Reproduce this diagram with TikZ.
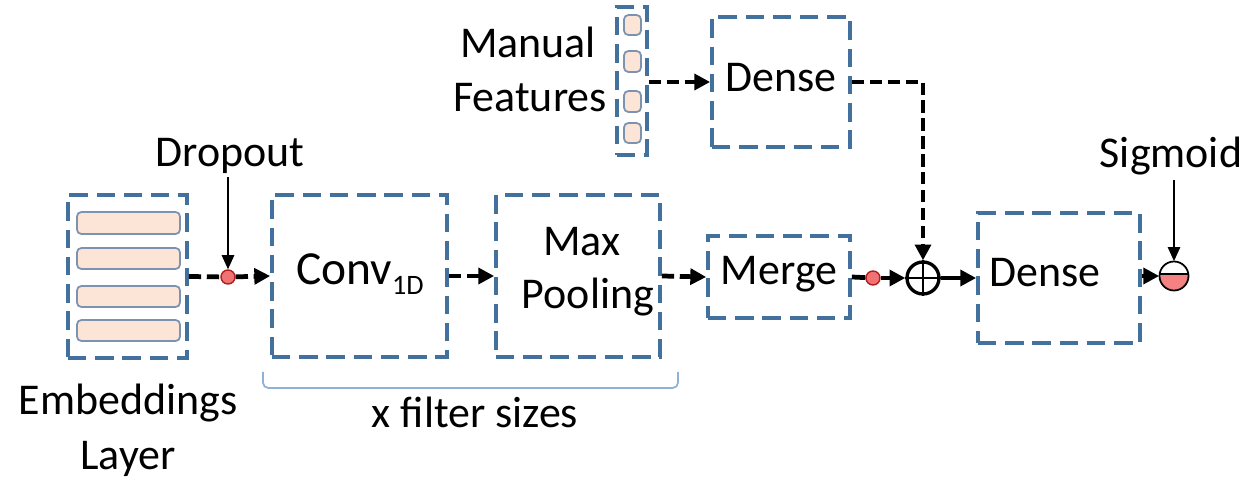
\documentclass[tikz,border=0pt]{standalone}
\usepackage{fontspec}
\setmainfont{Carlito}
\usetikzlibrary{arrows.meta,fit,calc}

\definecolor{boxblue}{HTML}{41719C}
\definecolor{braceblue}{HTML}{8FB1D6}
\definecolor{cellfill}{HTML}{FCE4D6}
\definecolor{cellrim}{HTML}{7C93B0}
\definecolor{dotfill}{HTML}{F07272}
\definecolor{dotrim}{HTML}{B02020}
\definecolor{sigfill}{HTML}{F58282}

\begin{document}
\begin{tikzpicture}[x=0.02cm,y=-0.02cm,
  layer/.style={draw=boxblue, line width=2.1pt, dash pattern=on 10.5pt off 5pt, inner sep=0pt},
  cell/.style={draw=cellrim, fill=cellfill, line width=1pt, rounded corners=2.5pt},
  txt/.style={font=\fontsize{25}{30}\selectfont, inner sep=0pt, anchor=base},
  flow/.style={line width=2.7pt, dash pattern=on 7pt off 3.2pt, -{Triangle[length=9pt,width=9pt]}},
  flowplain/.style={line width=2.7pt, dash pattern=on 7pt off 3.2pt},
  solidflow/.style={line width=2.7pt, -{Triangle[length=9pt,width=9pt]}},
  solidplain/.style={line width=2.7pt},
  pointer/.style={line width=1pt, -{Triangle[length=8pt,width=7pt]}},
  dot/.style={circle, draw=dotrim, fill=dotfill, line width=0.8pt, minimum size=0.28cm, inner sep=0pt}
]
\useasboundingbox (0,0) rectangle (1248,479);

% ---- layer boxes ----
\node[layer, fit={(68,195) (187,358)}] (emb) {};
\node[layer, fit={(272,195) (447,357)}] (conv) {};
\node[layer, fit={(496,195) (660,357)}] (pool) {};
\node[layer, fit={(708,236) (850,318)}] (merge) {};
\node[layer, fit={(978,213) (1140,343)}] (dense2) {};
\node[layer, fit={(712,17) (850,147)}] (dense1) {};
\node[layer, fit={(617,7) (647,155)}] (manual) {};

% embedding rows
\draw[cell] (77,212) rectangle (180,234);
\draw[cell] (77,248) rectangle (180,269);
\draw[cell] (77,286) rectangle (180,307);
\draw[cell] (77,320) rectangle (180,341);

% feature cells
\draw[cell] (624,15) rectangle (641,35);
\draw[cell] (624,51) rectangle (641,72);
\draw[cell] (624,91) rectangle (641,112);
\draw[cell] (624,123) rectangle (641,143);

% ---- texts ----
\node[txt] (tconv) at (360,285) {\fontsize{27}{30}\selectfont Conv\raisebox{-5.5pt}{\fontsize{16}{18}\selectfont 1D}};
\node[txt] (tmax) at (582,256) {Max};
\node[txt] (tpool) at (588,309) {Pooling};
\node[txt] (tmerge) at (779,285) {Merge};
\node[txt] (tdense1) at (781,92) {Dense};
\node[txt] (tdense2) at (1045,287) {Dense};
\node[txt] (tmanual) at (528,58) {Manual};
\node[txt] (tfeat) at (530,112) {Features};
\node[txt] (temb) at (128,415) {Embeddings};
\node[txt] (tlayer) at (128,470) {Layer};
\node[txt] (tfilter) at (475,428) {x filter sizes};
\node[txt] (tdrop) at (230,167) {Dropout};
\node[txt] (tsig) at (1171,168) {Sigmoid};

% ---- operators ----
\node[dot] (d1) at (228,277) {};
\node[dot] (d2) at (873,278) {};
\node[circle, draw, line width=1.9pt, minimum size=0.64cm, inner sep=0pt] (plus) at (923,278) {};
\draw[line width=1.6pt] (plus.north) -- (plus.south) (plus.west) -- (plus.east);

\node[circle, minimum size=0.58cm, inner sep=0pt] (sig) at (1174,276) {};
\begin{scope}
  \clip (sig.center) circle[radius=0.29cm];
  \fill[sigfill] ([xshift=-0.3cm,yshift=0.04cm]sig.center) rectangle ([xshift=0.3cm,yshift=-0.3cm]sig.center);
\end{scope}
\draw[line width=1pt] ([yshift=0.04cm]sig.west) -- ([yshift=0.04cm]sig.east);
\draw[line width=1pt] (sig.center) circle[radius=0.29cm];

% ---- connectors ----
\draw[flowplain] (emb.east) -- (d1);
\draw[flow] (d1) -- (conv.west);
\draw[flow] (conv.east) -- (pool.west);
\draw[flow] (pool.east) -- (merge.west);
\draw[solidplain] (merge.east) -- (d2);
\draw[solidflow] (d2) -- (plus.west);
\draw[solidflow] (plus.east) -- (dense2.west |- plus.east);
\draw[flow] (dense2.east |- sig.west) -- (sig.west);
\draw[flow] (manual.east |- dense1.west) -- (dense1.west);
\draw[flow] (dense1.east) -| (plus.north);
\draw[pointer] ([yshift=-0.2cm]tdrop.base -| d1) -- (d1.north);
\draw[pointer] ([yshift=-0.24cm]tsig.base -| sig) -- (sig.north);

% bracket under the convolution block
\coordinate (bl) at (263,372);
\coordinate (br) at (678,372);
\draw[braceblue, line width=1pt, rounded corners=3pt] (bl) -- ++(0,-0.32cm) -| (br);

\end{tikzpicture}
\end{document}
